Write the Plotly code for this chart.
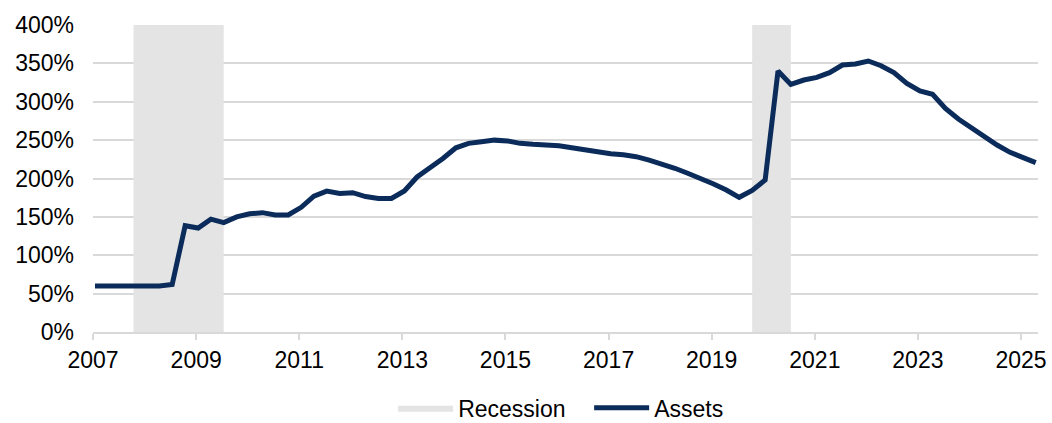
import pandas as pd
import plotly.graph_objects as go

# Quarterly observations starting Q1 2007
assets = [60, 60, 59.5, 59.5, 60, 60, 62, 138.5, 135.5, 147,
          142.5, 150, 154, 155.5, 152.5, 152.5, 162.5, 177, 183.5, 180.5,
          181.5, 176.5, 174, 174, 183.7, 202, 214, 226, 240, 245.8,
          248, 250, 249, 245.8, 244.5, 244, 242.7, 240, 237, 234.5,
          232.3, 231, 228.4, 224, 219.3, 213.3, 206.8, 200.2, 192.8, 185,
          175.5, 184.5, 198, 340, 322.5, 328.3, 331.8, 337.9, 347.9, 349.2,
          353.1, 347, 337.9, 324, 314, 309.7, 291.4, 277.5, 266.2, 253.2,
          243.6, 234.1, 227.1, 220.6]
dates = pd.date_range("2007-01-01", periods=len(assets), freq="QS") + pd.Timedelta(days=14)

recession_start = ["2007-10-15", "2019-10-15"]
recession_end = ["2009-07-15", "2020-07-15"]
y_max = 400

y_ticks = [0, 50, 100, 150, 200, 250, 300, 350, 400]
y_tick_labels = [f"{v}%" for v in y_ticks]
x_tick_years = list(range(2007, 2026, 2))

# Build recession polygons
rx, ry = [], []
for s, e in zip(recession_start, recession_end):
    rx += [s, s, e, e, s, None]
    ry += [0, y_max, y_max, 0, 0, None]

FONT = "Liberation Sans, Arial, sans-serif"
fig = go.Figure()
fig.add_trace(go.Scatter(
    x=rx, y=ry, name="Recession", mode="lines", fill="toself",
    fillcolor="#E4E4E4", line=dict(width=0, color="#E4E4E4"),
    hoverinfo="skip",
))
fig.add_trace(go.Scatter(
    x=dates, y=assets, name="Assets", mode="lines",
    line=dict(color="#0B2C5A", width=5),
))

fig.update_layout(
    width=1052, height=423,
    margin=dict(l=93, r=14, t=25, b=91, autoexpand=False),
    paper_bgcolor="white", plot_bgcolor="white",
    font=dict(family=FONT, size=23, color="#000000"),
    showlegend=True,
    legend=dict(orientation="h", x=0.525, xanchor="center",
                yref="container", y=0.087, yanchor="top",
                font=dict(size=23), itemwidth=55, entrywidth=126,
                traceorder="normal"),
)
fig.update_xaxes(
    type="date", range=["2007-01-01", "2025-05-01"], automargin=False,
    tickvals=[f"{y}-01-01" for y in x_tick_years],
    ticktext=[str(y) for y in x_tick_years],
    showgrid=False, showline=True, linecolor="#D9D9D9", linewidth=2,
    ticks="outside", ticklen=6, tickcolor="#D9D9D9", tickwidth=1.5,
    zeroline=False,
)
fig.update_yaxes(
    range=[0, y_max], tickvals=y_ticks, ticktext=y_tick_labels, automargin=False,
    showgrid=True, gridcolor="#D9D9D9", gridwidth=1.5,
    zeroline=False, showline=False, ticklabelstandoff=18,
)

fig.write_html("out.html", config={"displayModeBar": False},
               post_script="document.body.style.margin='0';")
